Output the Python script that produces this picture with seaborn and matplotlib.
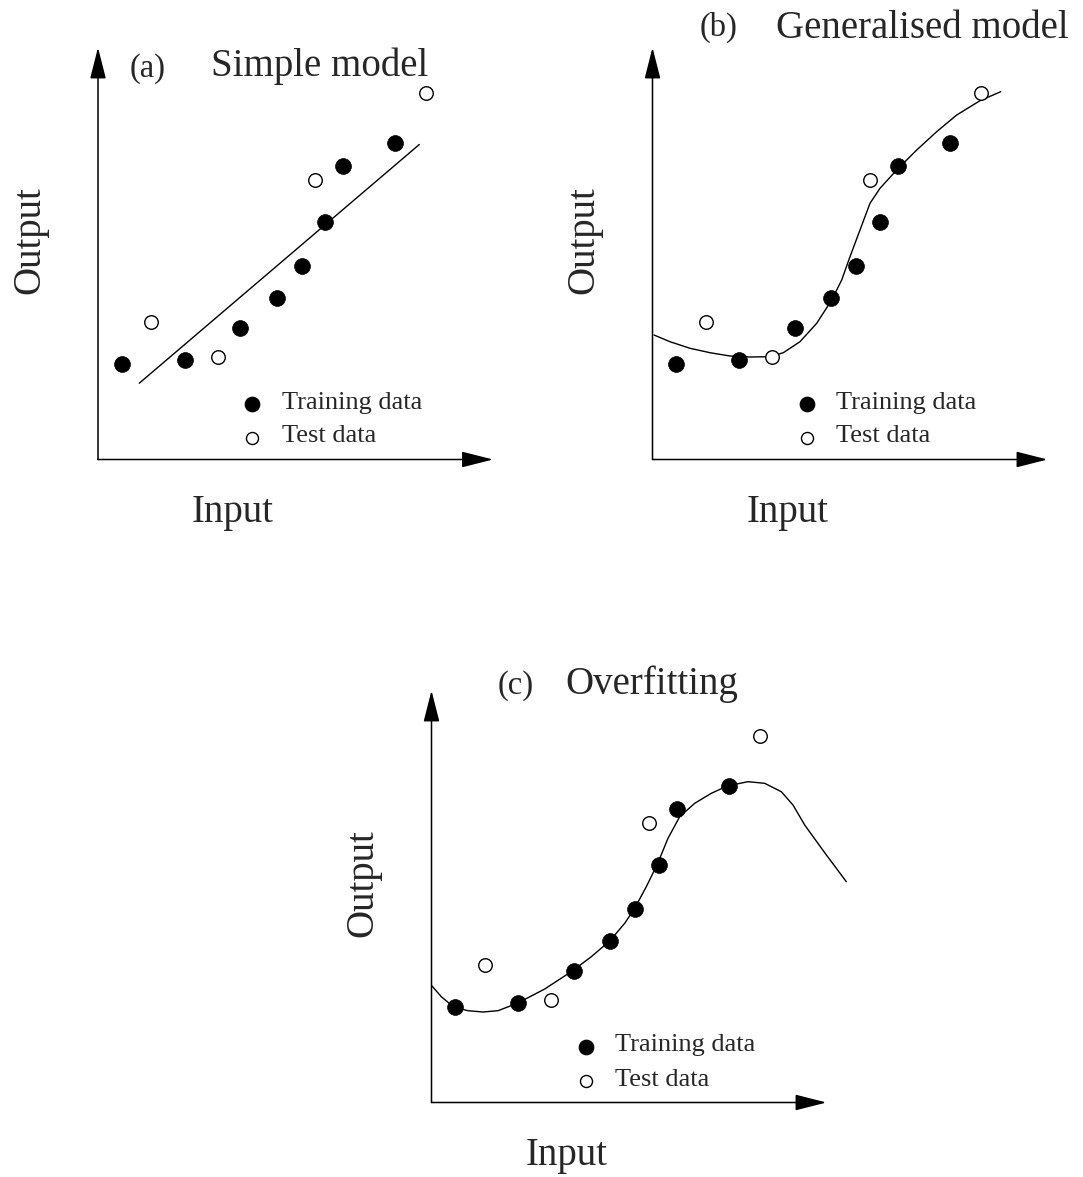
import numpy as np
import pandas as pd
import matplotlib
matplotlib.use("Agg")
import matplotlib.pyplot as plt
import seaborn as sns

# ---------------- data (units = pixels from panel origin) -----
train_x = [23.5, 86.7, 142.2, 178.8, 203.7, 227.0, 245.3, 297.0]
train_y = [95.2, 99.5, 132.0, 161.5, 193.8, 238.0, 294.0, 316.2]
test_x = [53.0, 119.8, 217.2, 328.3]
test_y = [137.8, 102.2, 279.5, 366.5]

fit_a_x = [41.3, 321.3]
fit_a_y = [76.3, 315.0]

fit_b_x = [1.5, 17.5, 37.5, 57.5, 77.5, 97.5, 117.5, 130.8, 147.5, 164.2, 179.2,
           189.2, 197.5, 207.5, 217.5, 227.5, 244.2, 264.2, 284.2, 304.2, 327.5, 348.2]
fit_b_y = [124.5, 117.8, 111.2, 106.8, 103.5, 102.5, 102.8, 106.8, 117.8, 136.2, 159.5,
           179.5, 202.8, 229.5, 256.2, 271.2, 289.5, 309.5, 327.8, 344.5, 358.8, 367.8]

fit_c_x = [0.5, 9.8, 22.5, 36.5, 51.5, 66.5, 85.8, 113.2, 140.8, 159.8, 178.2, 193.2,
           203.2, 214.8, 225.8, 236.5, 248.2, 263.2, 279.8, 296.5, 316.5, 333.2, 349.8,
           361.5, 373.2, 393.2, 414.8]
fit_c_y = [116.5, 105.8, 95.2, 91.8, 90.5, 91.8, 99.2, 113.5, 131.5, 145.8, 161.5, 179.2,
           194.2, 215.8, 238.2, 264.2, 285.8, 299.2, 309.2, 316.8, 320.8, 319.2, 310.8,
           297.5, 277.5, 249.8, 220.8]

panel_letters = ["(a)", "(b)", "(c)"]
panel_titles = ["Simple model", "Generalised model", "Overfitting"]
legend_labels = ["Training data", "Test data"]
x_label = "Input"
y_label = "Output"

# ---------------- style -------------------------------------------------------------
sns.set_style("white")
plt.rcParams["font.family"] = ["Liberation Serif", "DejaVu Serif"]

W, H = 1083, 1177
fig = plt.figure(figsize=(W / 100, H / 100), dpi=100)

# panel origins in pixels, plus title positions (relative to origin)
panels = [
    dict(origin=(98.0, 459.5), letter_pos=(50, 391), title_pos=(222, 393)),
    dict(origin=(652.5, 459.5), letter_pos=(66.5, 432), title_pos=(269.5, 431)),
    dict(origin=(431.5, 1102.5), letter_pos=(84.5, 416.5), title_pos=(220.5, 418.5)),
]
fits = [(fit_a_x, fit_a_y), (fit_b_x, fit_b_y), (fit_c_x, fit_c_y)]

XR = (-100, 440)
YR = (-80, 450)

train_df = pd.DataFrame({"x": train_x, "y": train_y})
test_df = pd.DataFrame({"x": test_x, "y": test_y})

for i, p in enumerate(panels):
    ox, oy = p["origin"]
    left = (ox + XR[0]) / W
    bottom = (H - oy + YR[0]) / H
    ax = fig.add_axes([left, bottom, (XR[1] - XR[0]) / W, (YR[1] - YR[0]) / H])
    ax.set_xlim(*XR)
    ax.set_ylim(*YR)
    ax.axis("off")

    # axes arrows
    arrow_kw = dict(arrowstyle="-|>,head_length=1.3,head_width=0.33",
                    color="black", lw=1.1, shrinkA=0, shrinkB=0, mutation_scale=15)
    ax.annotate("", xy=(0, 412), xytext=(0, 0), arrowprops=arrow_kw)
    ax.annotate("", xy=(395, 0), xytext=(0, 0), arrowprops=arrow_kw)

    # fitted curve
    fx, fy = fits[i]
    fit_df = pd.DataFrame({"x": fx, "y": fy})
    sns.lineplot(data=fit_df, x="x", y="y", ax=ax, color="black", lw=1.0,
                 sort=False, estimator=None, legend=False)

    # data points
    sns.scatterplot(data=train_df, x="x", y="y", ax=ax, s=130, color="black",
                    edgecolor="black", linewidth=0.5, legend=False, zorder=3)
    sns.scatterplot(data=test_df, x="x", y="y", ax=ax, s=95, facecolor="white",
                    edgecolor="black", linewidth=1.0, legend=False, zorder=3)

    # legend (manual, as in the drawing)
    leg_df_t = pd.DataFrame({"x": [154.0], "y": [56.0]})
    leg_df_o = pd.DataFrame({"x": [154.0], "y": [22.0]})
    sns.scatterplot(data=leg_df_t, x="x", y="y", ax=ax, s=110, color="black",
                    edgecolor="black", legend=False)
    sns.scatterplot(data=leg_df_o, x="x", y="y", ax=ax, s=75, facecolor="white",
                    edgecolor="black", linewidth=1.0, legend=False)
    ax.text(183.5, 57, legend_labels[0], fontsize=19, ha="left", va="center")
    ax.text(183.5, 23, legend_labels[1], fontsize=19, ha="left", va="center")

    # labels
    ax.text(-68.5, 219, y_label, fontsize=28, rotation=90, ha="center", va="center")
    ax.text(135, -53, x_label, fontsize=28, ha="center", va="center")
    lx, ly = p["letter_pos"]
    tx, ty = p["title_pos"]
    ax.text(lx, ly, panel_letters[i], fontsize=23.5, ha="center", va="center")
    ax.text(tx, ty, panel_titles[i], fontsize=28, ha="center", va="center")
    ax.set_xlabel("")
    ax.set_ylabel("")

fig.savefig("out.png", dpi=100, facecolor="white")
